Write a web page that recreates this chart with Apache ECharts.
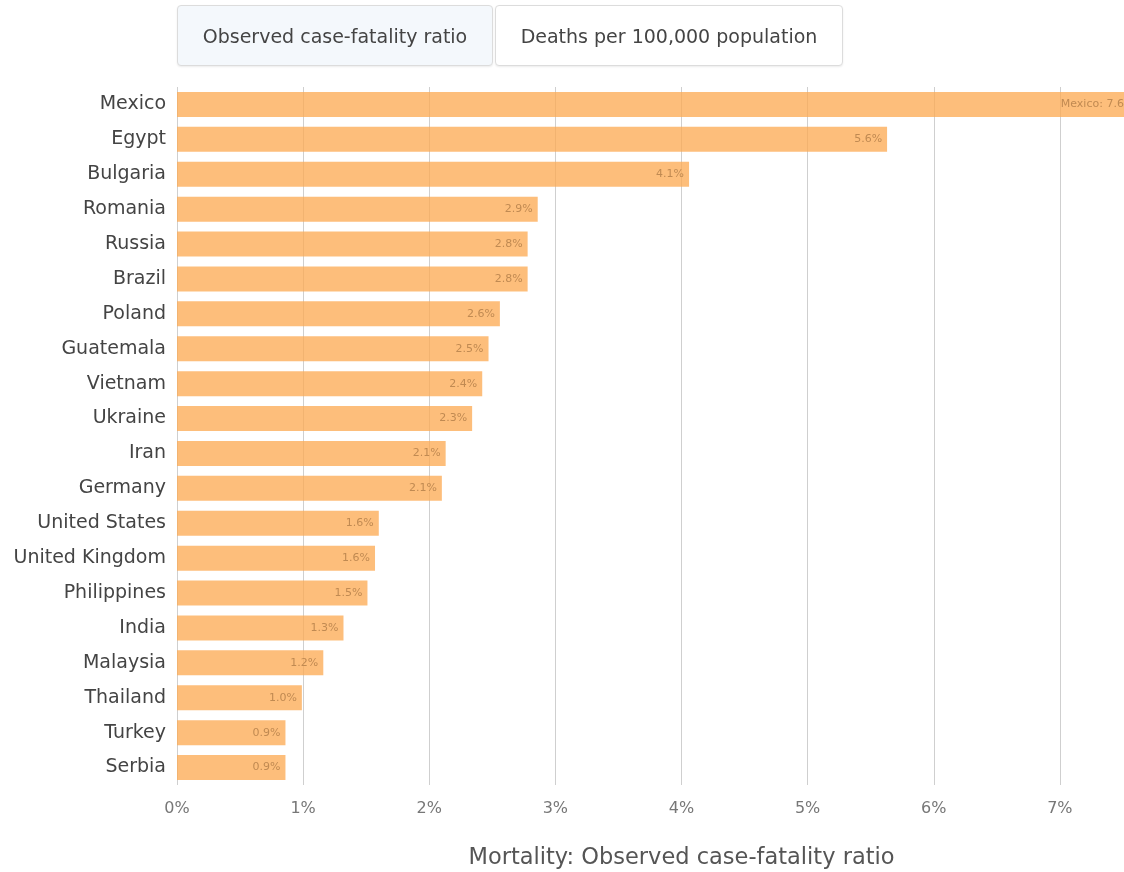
<!DOCTYPE html>
<html>
<head>
<meta charset="utf-8">
<script src="https://cdn.jsdelivr.net/npm/echarts@6/dist/echarts.min.js"></script>
<style>
  html, body { margin: 0; padding: 0; background: #fff; }
  #wrap { position: relative; width: 1124px; height: 872px; overflow: hidden; }
  #chart { position: absolute; left: 0; top: 0; width: 1187px; height: 872px; }
  .btn { position: absolute; top: 5px; height: 61px; box-sizing: border-box; border: 1px solid #dcdcdc; border-radius: 4px;
         font-family: "DejaVu Sans", sans-serif; font-size: 19px; color: #444; display: flex; align-items: center; justify-content: center; box-shadow: 0 1px 2px rgba(0,0,0,0.08); }
  #b1 { left: 177px; width: 316px; background: #f4f8fc; }
  #b2 { left: 495px; width: 348px; background: #fff; }
</style>
</head>
<body>
<div id="wrap">
  <div id="chart"></div>
  <div class="btn" id="b1">Observed case-fatality ratio</div>
  <div class="btn" id="b2">Deaths per 100,000 population</div>
</div>
<script>
const countries = ["Mexico","Egypt","Bulgaria","Romania","Russia","Brazil","Poland","Guatemala","Vietnam","Ukraine","Iran","Germany","United States","United Kingdom","Philippines","India","Malaysia","Thailand","Turkey","Serbia"];
const cfr = [7.63, 5.63, 4.06, 2.86, 2.78, 2.78, 2.56, 2.47, 2.42, 2.34, 2.13, 2.10, 1.60, 1.57, 1.51, 1.32, 1.16, 0.99, 0.86, 0.86];
const xTicks = [0, 1, 2, 3, 4, 5, 6, 7, 8];
const axisTitle = "Mortality: Observed case-fatality ratio";

const chart = echarts.init(document.getElementById('chart'), null, { width: 1187, height: 872 });
chart.setOption({
  animation: false,
  grid: { left: 177, right: 1, top: 87, bottom: 87, containLabel: false, outerBoundsMode: 'none' },
  xAxis: {
    type: 'value', min: xTicks[0], max: xTicks[xTicks.length - 1], interval: 1,
    name: axisTitle, nameLocation: 'middle', nameGap: 62,
    nameTextStyle: { fontFamily: 'DejaVu Sans', fontSize: 22.5, color: '#555' },
    axisLine: { show: false }, axisTick: { show: false },
    axisLabel: { formatter: v => v + '%', fontFamily: 'DejaVu Sans', fontSize: 16, color: '#777', margin: 16 },
    splitLine: { show: true, lineStyle: { color: '#cfcfcf', width: 1 } }
  },
  yAxis: {
    type: 'category', data: countries, inverse: true,
    axisLine: { show: false }, axisTick: { show: false },
    axisLabel: { fontFamily: 'DejaVu Sans', fontSize: 19, color: '#444', margin: 11 }
  },
  series: [{
    type: 'bar', data: cfr, barWidth: 25,
    itemStyle: { color: 'rgba(252,170,82,0.76)' },
    label: {
      show: true, position: 'insideRight', distance: 5,
      fontFamily: 'DejaVu Sans', fontSize: 11, color: '#c08a52',
      formatter: p => (p.dataIndex === 0 ? p.name + ': ' : '') + p.value.toFixed(1) + '%'
    }
  }]
});
</script>
</body>
</html>
